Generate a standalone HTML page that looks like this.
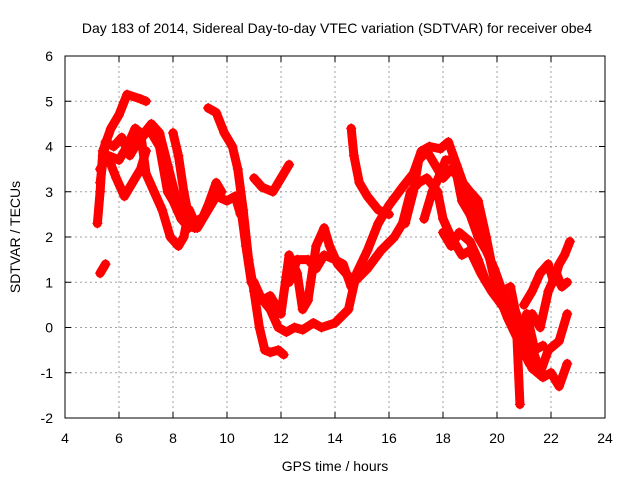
<!DOCTYPE html>
<html><head><meta charset="utf-8"><style>
body{margin:0;background:#fff}
svg{font-family:"Liberation Sans",sans-serif;font-size:14px}
</style></head><body>
<svg id="chart" width="640" height="480" viewBox="0 0 640 480">
<rect width="640" height="480" fill="#fff"/>
<text x="337" y="33" text-anchor="middle">Day 183 of 2014, Sidereal Day-to-day VTEC variation (SDTVAR) for receiver obe4</text>
<text x="335" y="471" text-anchor="middle">GPS time / hours</text>
<text x="20" y="237" text-anchor="middle" transform="rotate(-90 20 237)">SDTVAR / TECUs</text>
<g id="grid"></g>
<g id="ticks"></g>
<g id="marks"></g>
<rect x="65" y="56" width="540" height="362" fill="none" stroke="#000" stroke-width="1"/>
</svg>
<script>
const xTicks=[4,6,8,10,12,14,16,18,20,22,24];
const yTicks=[-2,-1,0,1,2,3,4,5,6];
const trace1=[[5.2,2.3],[5.3,3.0],[5.4,3.9],[5.7,4.4],[6.0,4.7],[6.3,5.15],[6.8,5.05],[7.0,5.0]];
const trace2=[[5.3,3.5],[5.6,3.8],[6.0,3.7],[6.3,4.0],[6.6,4.4],[6.8,4.3],[7.0,3.4],[7.3,3.0],[7.6,2.6],[7.9,2.0],[8.2,1.8],[8.4,2.0],[8.6,2.6],[8.9,2.2],[9.2,2.5],[9.6,2.9],[10.0,2.8],[10.3,2.9],[10.5,2.5]];
const trace3=[[6.5,4.0],[6.8,4.2],[7.2,4.5],[7.5,4.3],[7.8,3.6],[8.1,2.9],[8.4,2.5],[8.8,2.2],[9.0,2.3],[9.3,2.7],[9.6,3.2],[9.8,3.0]];
const trace4=[[7.2,4.3],[7.5,4.0],[7.8,3.0],[8.0,2.8],[8.3,2.4],[8.6,2.2]];
const trace5=[[8.0,4.3],[8.2,3.8],[8.4,3.0],[8.6,2.4],[8.8,2.2],[9.0,2.4]];
const trace6=[[5.4,3.8],[5.7,3.6],[5.9,3.3],[6.2,2.9],[6.5,3.2],[6.8,3.5],[7.0,3.9]];
const trace7=[[5.3,1.2],[5.4,1.3],[5.5,1.4]];
const trace8=[[9.3,4.85],[9.6,4.75],[9.9,4.3],[10.2,4.0],[10.4,3.5],[10.6,2.6],[10.8,1.5],[11.0,0.8],[11.2,0.0],[11.4,-0.5],[11.6,-0.55],[11.9,-0.5],[12.1,-0.6]];
const trace9=[[10.5,2.7],[10.7,1.8],[10.9,1.0],[11.2,0.7],[11.6,0.4],[11.9,0.0],[12.2,-0.1],[12.5,0.0],[12.8,-0.05],[13.2,0.1],[13.5,0.0],[14.0,0.1],[14.5,0.4],[14.8,1.2],[15.2,1.7],[15.6,2.3],[16.0,2.7],[16.5,3.1],[16.9,3.4],[17.2,3.9],[17.5,4.0],[17.9,3.95],[18.2,4.1],[18.5,3.6],[18.8,3.1],[19.3,2.5],[19.7,1.6],[20.0,0.8],[20.4,0.2],[20.8,-0.3],[21.2,-0.8],[21.6,-1.0],[21.9,-0.5],[22.3,-0.3],[22.6,0.3]];
const trace10=[[11.0,3.3],[11.3,3.1],[11.7,3.0],[12.0,3.3],[12.3,3.6]];
const trace11=[[11.0,1.0],[11.3,0.6],[11.6,0.7],[12.0,0.3],[12.3,1.6],[12.6,1.2],[12.8,0.4],[13.0,0.6],[13.3,1.8],[13.6,2.2],[13.8,1.8],[14.1,1.4],[14.4,1.2],[14.7,1.0],[15.2,1.3],[15.7,1.7],[16.2,2.0],[16.5,2.3],[16.8,3.0],[17.1,3.2],[17.4,3.3],[17.8,3.0],[18.0,2.4],[18.3,2.0],[18.7,1.6],[19.0,1.7],[19.4,1.2],[19.8,0.8],[20.3,0.4],[20.7,0.1],[21.0,-0.5],[21.3,-0.9],[21.7,-1.1],[22.0,-1.0],[22.3,-1.3],[22.6,-0.8]];
const trace12=[[14.6,4.4],[14.7,3.8],[14.9,3.2],[15.2,2.9],[15.6,2.6],[16.0,2.5]];
const trace13=[[12.3,1.0],[12.6,1.5],[13.0,1.5],[13.3,1.3],[13.6,1.6],[14.0,1.5],[14.3,1.4],[14.6,0.9]];
const trace14=[[16.6,2.3],[16.9,3.0],[17.1,3.7],[17.4,3.9],[17.7,3.6],[18.0,3.3],[18.3,3.5],[18.6,3.3],[19.0,3.0],[19.3,2.8],[19.6,2.0],[19.9,1.1],[20.2,0.7],[20.6,0.5],[20.9,0.0],[21.2,-0.3],[21.5,-0.8]];
const trace15=[[17.3,2.4],[17.6,3.0],[17.9,3.4],[18.1,3.7],[18.4,3.7],[18.7,2.8],[19.0,2.5],[19.3,2.0],[19.6,1.7],[19.9,1.3],[20.2,0.8],[20.5,0.9],[20.7,0.3],[20.85,-1.7]];
const trace16=[[18.0,2.1],[18.3,1.8],[18.6,2.1],[19.0,1.9],[19.3,1.5],[19.6,1.0],[20.0,0.7]];
const trace17=[[21.0,0.5],[21.3,0.8],[21.6,1.2],[21.9,1.4],[22.1,1.0],[22.3,1.4],[22.5,1.6],[22.7,1.9]];
const trace18=[[21.3,0.3],[21.6,0.0],[21.9,0.8],[22.2,1.2],[22.4,0.9],[22.6,1.0]];
const trace19=[[5.3,3.2],[5.5,4.1],[5.8,4.0],[6.1,4.2],[6.4,3.8],[6.7,4.1],[7.0,4.3]];
const trace20=[[20.3,0.6],[20.6,0.2],[20.9,-0.2],[21.1,0.3],[21.4,-0.5],[21.7,-0.4]];
const traces=[trace1,trace2,trace3,trace4,trace5,trace6,trace7,trace8,trace9,trace10,trace11,trace12,trace13,trace14,trace15,trace16,trace17,trace18,trace19,trace20];

const NS="http://www.w3.org/2000/svg";
const X0=65,X1=605,Y0=418,Y1=56,XMIN=4,XMAX=24,YMIN=-2,YMAX=6;
function sx(v){return X0+(v-XMIN)/(XMAX-XMIN)*(X1-X0);}
function sy(v){return Y0-(v-YMIN)/(YMAX-YMIN)*(Y0-Y1);}
function mk(t,a){const e=document.createElementNS(NS,t);for(const k in a)e.setAttribute(k,a[k]);return e;}
const grid=document.getElementById('grid'),ticks=document.getElementById('ticks'),marks=document.getElementById('marks');
xTicks.forEach(t=>{
  const x=sx(t);
  if(t>XMIN&&t<XMAX){const g=mk('line',{x1:x,x2:x,y1:Y1,y2:Y0,stroke:'#a0a0a0','stroke-dasharray':'2,3'});
  
  grid.appendChild(g);}
  const a=mk('line',{x1:x,x2:x,y1:Y0,y2:Y0-6,stroke:'#000'});
  
  ticks.appendChild(a);
  const b=mk('line',{x1:x,x2:x,y1:Y1,y2:Y1+6,stroke:'#000'});
  
  ticks.appendChild(b);
  const l=mk('text',{x:x,y:Y0+25,'text-anchor':'middle'});l.textContent=t;
  
  ticks.appendChild(l);
});
yTicks.forEach(t=>{
  const y=sy(t);
  if(t>YMIN&&t<YMAX){const g=mk('line',{x1:X0,x2:X1,y1:y,y2:y,stroke:'#a0a0a0','stroke-dasharray':'2,3'});
  
  grid.appendChild(g);}
  const a=mk('line',{x1:X0,x2:X0+6,y1:y,y2:y,stroke:'#000'});
  
  ticks.appendChild(a);
  const b=mk('line',{x1:X1,x2:X1-6,y1:y,y2:y,stroke:'#000'});
  
  ticks.appendChild(b);
  const l=mk('text',{x:X0-12,y:y+5,'text-anchor':'end'});l.textContent=t;
  
  ticks.appendChild(l);
});
traces.forEach((tr,i)=>{
  const p=mk('polyline',{points:tr.map(d=>sx(d[0])+','+sy(d[1])).join(' '),fill:'none',stroke:'#ff0000','stroke-width':9,'stroke-linejoin':'round','stroke-linecap':'round'});
  
  
  marks.appendChild(p);
  tr.forEach(d=>{
    const x=sx(d[0]),y=sy(d[1]);
    const m=mk('path',{d:`M${x-5},${y}H${x+5}M${x},${y-5}V${y+5}`,stroke:'#ff0000','stroke-width':1.2});
    
    
    marks.appendChild(m);
  });
});
</script>
</body></html>
